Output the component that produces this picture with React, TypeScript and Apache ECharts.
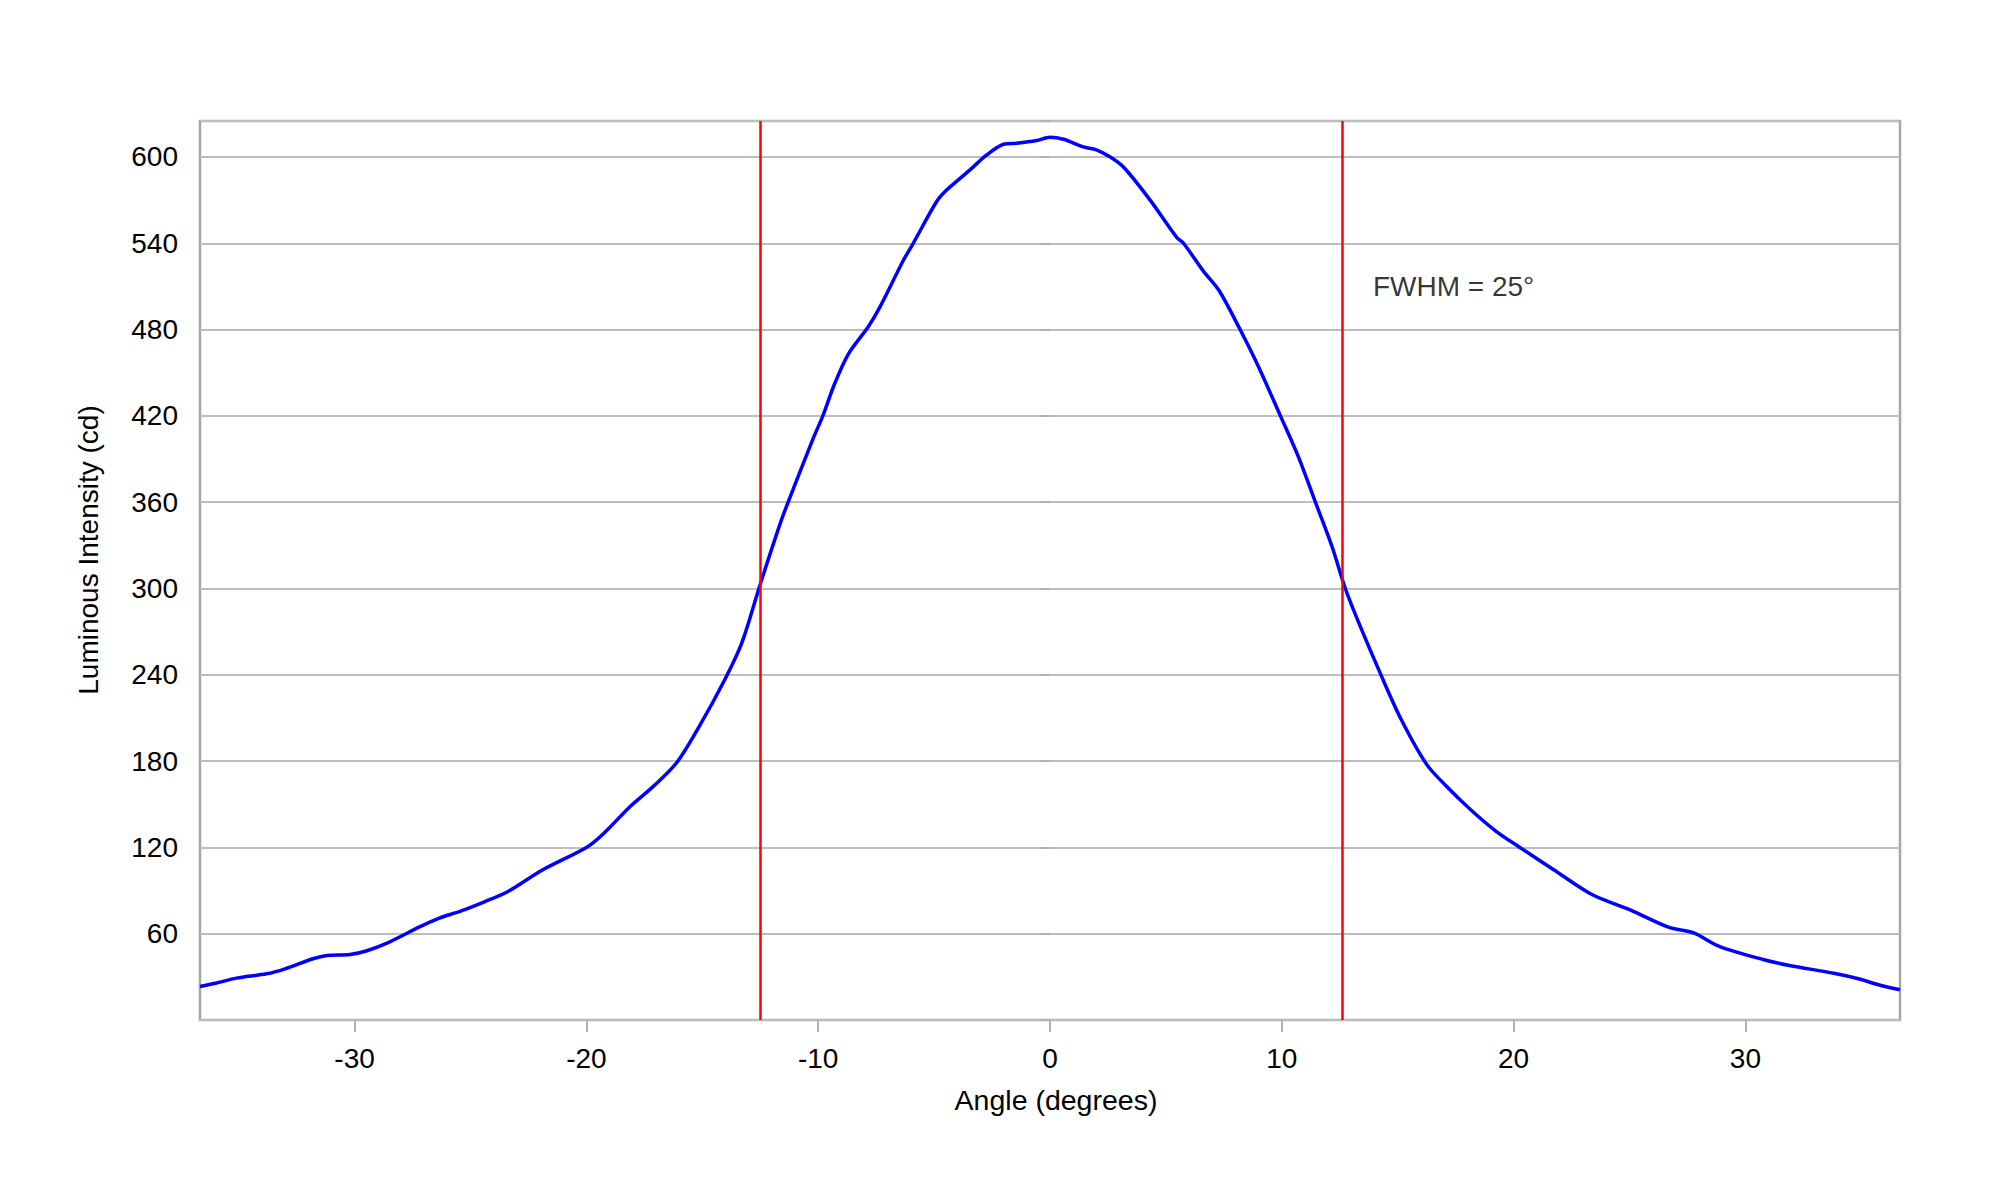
import React, { useEffect, useRef } from "react";
import * as echarts from "echarts";

// Angle (degrees) and luminous intensity (cd)
const angles: number[] = [
  -36.67, -36, -35.1, -33.8, -33.0, -31.8, -31.2, -30.2, -29.5, -28.5, -27.2, -26.4,
  -25.4, -24.4, -23.4, -21.9, -20.0, -19.3, -18.1, -17.1, -16.1, -15.1, -14.05, -13.3,
  -12.5, -11.6, -11.2, -10.25, -9.8, -9.3, -8.7, -7.84, -7.34, -6.33, -5.9, -4.89,
  -4.46, -3.45, -2.73, -2.0, -1.44, -0.58, 0, 0.58, 1.44, 2.0, 2.6, 3.17, 4.32, 5.47,
  5.76, 6.6, 7.3, 8.2, 9.0, 9.94, 10.73, 11.45, 12.17, 12.74, 13.3, 14.31, 15.14,
  16.24, 17.06, 18.16, 19.26, 20.22, 21.73, 23.38, 25.03, 26.68, 27.77, 28.87, 30.8,
  31.9, 33.82, 34.92, 35.74, 36.67,
];
const intensity: number[] = [
  23.3, 25.5, 29.1, 32.1, 35.6, 42.6, 44.9, 45.6, 48, 54.2, 64.7, 70.5,
  75.9, 82.2, 89.2, 104.3, 120, 129, 148.6, 162.6, 179, 205, 236, 262,
  303, 347, 364, 403, 420, 442, 463, 482, 495.6, 528, 540, 569,
  577, 591, 601.4, 608.8, 609.5, 611.4, 613.7, 612.3, 607, 605, 600, 593, 570, 544,
  540, 521, 507, 480, 454, 420, 391, 360, 329, 300, 277, 238.7, 209.3,
  177.9, 163.2, 146, 131, 120.5, 104.5, 87.2, 76.5, 64.5, 60.5, 51.2, 41.9,
  37.9, 32.5, 28.5, 24.5, 21,
];

const fwhmEdges: number[] = [-12.5, 12.6];
const fwhmLabel = "FWHM = 25°";
const fwhmLabelPos: number[] = [13.93, 510];

const xTicks: number[] = [-30, -20, -10, 0, 10, 20, 30];
const xRange: number[] = [-36.67, 36.67];
const yRange: number[] = [0, 625];
const yStep = 60;

const FONT = "'Liberation Sans', Arial, sans-serif";

export default function App() {
  const ref = useRef<HTMLDivElement>(null);

  useEffect(() => {
    if (!ref.current) return;
    const chart = echarts.init(ref.current, null, { renderer: "svg" });
    const textStyle = { fontFamily: FONT, fontSize: 28, color: "#000" };
    chart.setOption({
      animation: false,
      backgroundColor: "#fff",
      textStyle,
      grid: {
        left: 200,
        right: 100,
        top: 121,
        bottom: 180,
        show: true,
        borderColor: "#a6a6a6",
        borderWidth: 2.5,
        backgroundColor: "transparent",
      },
      xAxis: {
        type: "value",
        min: xRange[0],
        max: xRange[1],
        name: "Angle (degrees)",
        nameLocation: "middle",
        nameGap: 65,
        nameTextStyle: { ...textStyle, fontSize: 28.5, padding: [0, 0, 0, 12] },
        axisLine: { show: false },
        axisTick: {
          show: true,
          length: 12,
          customValues: xTicks,
          lineStyle: { color: "#b0b0b0", width: 2 },
        },
        axisLabel: { ...textStyle, margin: 24, customValues: xTicks },
        splitLine: { show: false },
      },
      yAxis: {
        type: "value",
        min: yRange[0],
        max: yRange[1],
        interval: yStep,
        name: "Luminous Intensity (cd)",
        nameLocation: "middle",
        nameRotate: 90,
        nameGap: 98,
        nameTextStyle: { ...textStyle, padding: [0, 0, 0, 41] },
        axisLine: { show: false },
        axisTick: { show: true, length: 9, lineStyle: { color: "#b0b0b0", width: 2 } },
        axisLabel: {
          ...textStyle,
          margin: 22,
          formatter: (v: number) => (v > 0 && v % yStep === 0 ? String(v) : ""),
        },
        splitLine: { show: true, lineStyle: { color: "#bdbdbd", width: 1.8 } },
      },
      series: [
        {
          type: "line",
          data: angles.map((a, i) => [a, intensity[i]]),
          showSymbol: false,
          smooth: 0.3,
          lineStyle: { color: "#0000ff", width: 3.5 },
          itemStyle: { color: "#0000ff" },
          z: 3,
          markLine: {
            silent: true,
            symbol: ["none", "none"],
            label: { show: false },
            lineStyle: { color: "#ff0000", width: 2.5, type: "solid" },
            data: fwhmEdges.map((x) => ({ xAxis: x })),
          },
        },
        {
          type: "scatter",
          data: [fwhmLabelPos],
          symbolSize: 0,
          silent: true,
          label: {
            show: true,
            position: "right",
            distance: 0,
            formatter: fwhmLabel,
            ...textStyle,
          },
        },
      ],
    });
    return () => chart.dispose();
  }, []);

  return (
    <div
      ref={ref}
      style={{ position: "fixed", left: 0, top: 0, width: 2000, height: 1200, background: "#fff" }}
    />
  );
}
